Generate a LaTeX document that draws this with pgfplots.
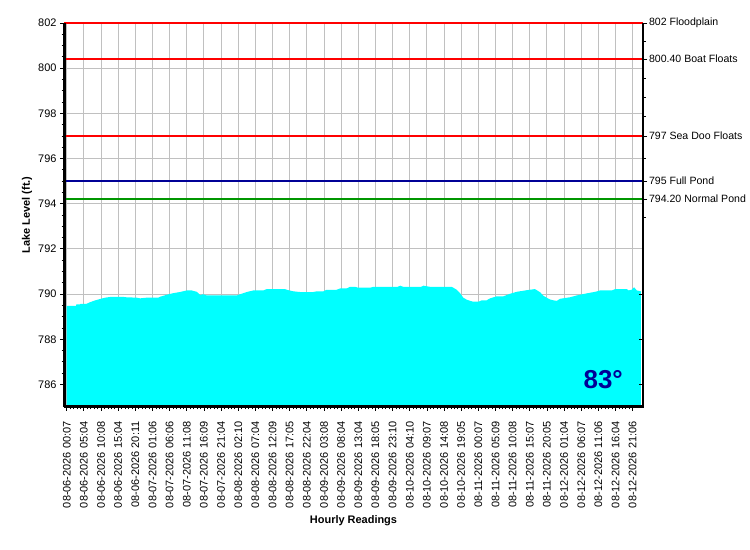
\documentclass[border=0pt]{standalone}
\usepackage{fontspec}
\setmainfont{Liberation Sans}
\usepackage{pgfplots}
\pgfplotsset{compat=1.18}
\definecolor{gridgray}{RGB}{192,192,192}
\definecolor{navyc}{RGB}{0,0,150}
\definecolor{greenc}{RGB}{0,150,0}
\definecolor{cyanc}{RGB}{0,255,255}
\definecolor{redc}{RGB}{255,0,0}
\begin{document}
\begin{tikzpicture}[x=1bp,y=1bp]
\useasboundingbox (0,0) rectangle (750,550);
\begin{axis}[
  at={(64bp,143bp)}, anchor=south west,
  width=579bp, height=384bp, scale only axis,
  xmin=-0.8, xmax=168, ymin=785, ymax=802,
  clip=false,
  /pgf/number format/assume math mode=true,
  font=\fontsize{11}{13}\selectfont,
  axis line style={black, line width=0.8bp},
  xtick={0,5,...,165},
  xticklabels={08-06-2026 00:07, 08-06-2026 05:04, 08-06-2026 10:08, 08-06-2026 15:04, 08-06-2026 20:11, 08-07-2026 01:06, 08-07-2026 06:06, 08-07-2026 11:08, 08-07-2026 16:09, 08-07-2026 21:04, 08-08-2026 02:10, 08-08-2026 07:04, 08-08-2026 12:09, 08-08-2026 17:05, 08-08-2026 22:04, 08-09-2026 03:08, 08-09-2026 08:04, 08-09-2026 13:04, 08-09-2026 18:05, 08-09-2026 23:10, 08-10-2026 04:10, 08-10-2026 09:07, 08-10-2026 14:08, 08-10-2026 19:05, 08-11-2026 00:07, 08-11-2026 05:09, 08-11-2026 10:08, 08-11-2026 15:07, 08-11-2026 20:05, 08-12-2026 01:04, 08-12-2026 06:07, 08-12-2026 11:06, 08-12-2026 16:04, 08-12-2026 21:06},
  x tick label style={rotate=90, anchor=east, font=\fontsize{11}{13}\selectfont},
  xticklabel shift=7bp,
  y tick label style={font=\fontsize{11}{13}\selectfont},
  minor x tick num=4,
  ytick={786,788,...,802},
  minor y tick num=3,
  xtick pos=bottom, ytick pos=left,
  tick align=outside,
  major tick length=4bp, minor tick length=2.5bp,
  tick style={black, line width=0.8bp},
  grid=major,
  grid style={gridgray, line width=1bp},
  xlabel={\bfseries Hourly Readings},
  ylabel={\bfseries Lake Level (ft.)},
  xlabel style={at={(axis description cs:0.5,-0.297)}, anchor=center},
  ylabel style={at={(axis description cs:-0.064,0.5)}, anchor=center},
]
\addplot[fill=cyanc, draw=none] coordinates {
(0,789.48) (2.7,789.48) (2.8,789.54) (3.9,789.54) (4.0,789.57) (5.8,789.57)
(6.8,789.64) (8.3,789.72) (9.7,789.78) (11.2,789.84) (13.1,789.88) (16.5,789.88)
(17,789.86) (20.4,789.84) (21.4,789.81) (23.3,789.84) (26.7,789.84) (27.2,789.88)
(29.2,789.97) (31.1,790.04) (33.0,790.09) (35.0,790.16) (36.4,790.16) (37.9,790.1)
(38.9,789.96) (39.8,789.99) (40.8,789.94) (49.6,789.94) (50.5,789.99) (52.5,790.09)
(54.4,790.16) (57.3,790.16) (58.3,790.22) (63.6,790.22) (64.6,790.17) (66.1,790.12)
(68.0,790.09) (71.9,790.09) (72.9,790.12) (74.8,790.12) (75.8,790.19) (78.7,790.19)
(79.7,790.25) (81.6,790.25) (82.6,790.32) (84.0,790.32) (85.0,790.28) (88.4,790.28)
(89.4,790.32) (96.5,790.32) (97.2,790.37) (98.1,790.32) (103.3,790.32) (104.0,790.37)
(105.9,790.32) (112.2,790.32) (112.7,790.28) (113.7,790.19) (114.7,790.03) (115.6,789.84)
(116.6,789.75) (117.6,789.70) (118.5,789.66) (120.0,789.66) (121.0,789.72) (122.4,789.72)
(123.4,789.81) (125.4,789.9) (127.3,789.9) (129.2,790.01) (131.2,790.1) (134.1,790.17)
(136.5,790.22) (138.0,790.08) (138.9,789.93) (139.9,789.84) (140.9,789.76) (141.9,789.72)
(142.9,789.70) (143.8,789.79) (146.8,789.86) (148.7,789.94) (151.6,790.03) (154.1,790.1)
(155.5,790.16) (158.9,790.16) (159.9,790.22) (163.3,790.22) (163.8,790.16) (164.7,790.19)
(165.4,790.30) (166.2,790.16) (167.4,790.12)
} \closedcycle;
\addplot[redc, line width=2bp] coordinates {(-0.8,802) (168,802)};
\addplot[redc, line width=2bp] coordinates {(-0.8,800.4) (168,800.4)};
\addplot[redc, line width=2bp] coordinates {(-0.8,797) (168,797)};
\addplot[color=navyc, line width=1.4bp] coordinates {(-0.8,795) (168,795)};
\addplot[color=greenc, line width=1.4bp] coordinates {(-0.8,794.2) (168,794.2)};
\draw[black, line width=3bp] (rel axis cs:0,0) -- (rel axis cs:0,1);
\draw[black, line width=3bp] (rel axis cs:0,0) -- (rel axis cs:1,0);
\node[font=\bfseries\fontsize{26}{26}\selectfont, text=navyc] at (axis cs:156.4,786.22) {83°};
\end{axis}
\begin{axis}[
  at={(64bp,143bp)}, anchor=south west,
  width=579bp, height=384bp, scale only axis,
  xmin=-0.8, xmax=168, ymin=785, ymax=802,
  axis x line=none, axis y line*=right,
  axis line style={black, line width=2.5bp},
  /pgf/number format/assume math mode=true,
  ytick={794.2,795,797,800.4,802},
  yticklabels={794.20 Normal Pond, 795 Full Pond, 797 Sea Doo Floats, 800.40 Boat Floats, 802 Floodplain},
  y tick label style={font=\fontsize{10.6}{13}\selectfont, xshift=-1.5bp},
  minor ytick={801.2,799.55,798.7,797.85,796,793.4},
  extra y ticks={786,788,790},
  extra y tick labels={},
  extra y tick style={tick align=inside},
  tick align=outside,
  major tick length=4bp, minor tick length=2.5bp,
  tick style={black, line width=0.8bp},
]
\addplot[draw=none] coordinates {(0,790) (1,790)};
\end{axis}
\end{tikzpicture}
\end{document}
